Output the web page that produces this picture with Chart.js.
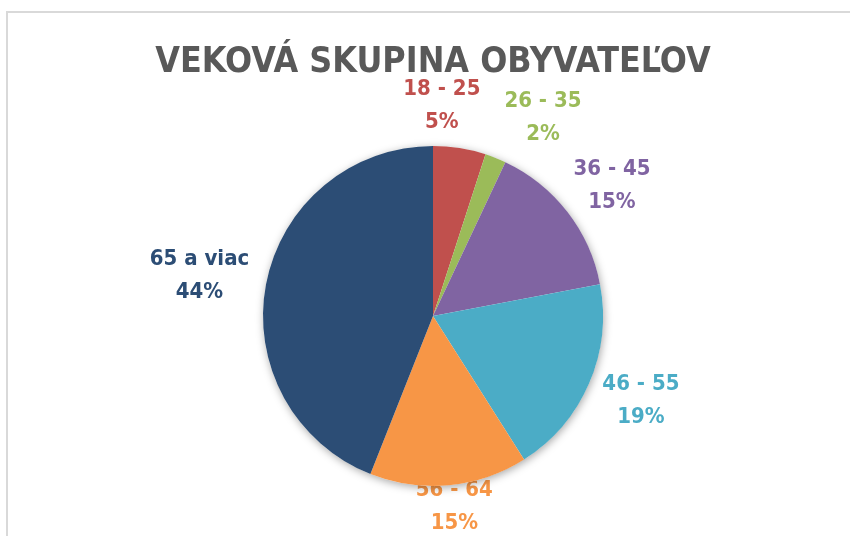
<!DOCTYPE html>
<html>
<head>
<meta charset="utf-8">
<script src="https://cdn.jsdelivr.net/npm/chart.js@4.4.1/dist/chart.umd.min.js"></script>
<style>
  html, body { margin: 0; padding: 0; background: #fff; }
  #wrap { width: 850px; height: 536px; position: relative; }
</style>
</head>
<body>
<div id="wrap"><canvas id="myChart" width="850" height="536"></canvas></div>
<script>
// DATOS DEL GRAFICO //
const categorias = ["18 - 25", "26 - 35", "36 - 45", "46 - 55", "56 - 64", "65 a viac"];
const valores = [5, 2, 15, 19, 15, 44];
const colores = ["#C0504D", "#9BBB59", "#8064A2", "#4BACC6", "#F79646", "#2C4D75"];
const titulo = "VEKOVÁ SKUPINA OBYVATEĽOV";

const fuente = "'DejaVu Sans Condensed', 'DejaVu Sans', sans-serif";

// marco gris alrededor del grafico
const marco = {
  id: "marco",
  beforeDraw(chart) {
    const ctx = chart.ctx;
    ctx.save();
    ctx.strokeStyle = "#D9D9D9";
    ctx.lineWidth = 2;
    ctx.beginPath();
    ctx.moveTo(7, chart.height + 5);
    ctx.lineTo(7, 12);
    ctx.lineTo(chart.width + 5, 12);
    ctx.stroke();
    ctx.restore();
  },
};

// etiquetas fuera de la tarta + sombra
const etiquetas = {
  id: "etiquetas",
  beforeDatasetsDraw(chart) {
    const ctx = chart.ctx;
    const arcs = chart.getDatasetMeta(0).data;
    const total = valores.reduce((a, b) => a + b, 0);
    ctx.save();
    ctx.font = "bold 22px " + fuente;
    ctx.textAlign = "center";
    ctx.textBaseline = "middle";
    const lh = 33;
    const cajas = arcs.map((arc, i) => {
      const p = arc.getProps(["x", "y", "startAngle", "endAngle", "outerRadius"], true);
      const mid = (p.startAngle + p.endAngle) / 2;
      const dx = Math.cos(mid);
      const dy = Math.sin(mid);
      const pct = Math.round((valores[i] / total) * 100) + "%";
      const w = Math.max(ctx.measureText(categorias[i]).width, ctx.measureText(pct).width);
      const h = lh * 2;
      let cx = p.x + dx * (p.outerRadius + 18) + (dx * w) / 2;
      let cy = p.y + dy * (p.outerRadius + 10) + (dy * h) / 2;
      if (cy + h / 2 > chart.height + 4) cy = chart.height + 4 - h / 2;
      return { i, cx, cy, w, h, pct };
    });
    // separar etiquetas que se pisan
    for (let k = 0; k < 5; k++) {
      for (let a = 0; a < cajas.length; a++) {
        for (let b = a + 1; b < cajas.length; b++) {
          const A = cajas[a], B = cajas[b];
          const sepX = (A.w + B.w) / 2 + 24;
          const sepY = (A.h + B.h) / 2;
          if (Math.abs(A.cx - B.cx) < sepX && Math.abs(A.cy - B.cy) < sepY) {
            const mov = (sepX - Math.abs(A.cx - B.cx)) / 2;
            const sgn = A.cx <= B.cx ? 1 : -1;
            A.cx -= mov * sgn;
            B.cx += mov * sgn;
          }
        }
      }
    }
    cajas.forEach((c) => {
      ctx.fillStyle = colores[c.i];
      ctx.fillText(categorias[c.i], c.cx, c.cy - lh / 2);
      ctx.fillText(c.pct, c.cx, c.cy + lh / 2);
    });
    // sombra suave debajo de la tarta
    const a0 = arcs[0];
    ctx.beginPath();
    ctx.arc(a0.x, a0.y, a0.outerRadius, 0, Math.PI * 2);
    ctx.fillStyle = "#ffffff";
    ctx.shadowColor = "rgba(0,0,0,0.35)";
    ctx.shadowBlur = 8;
    ctx.shadowOffsetX = 1;
    ctx.shadowOffsetY = 2;
    ctx.fill();
    ctx.restore();
  },
};

document.addEventListener("DOMContentLoaded", function () {
  const ctx = document.getElementById("myChart").getContext("2d");
  new Chart(ctx, {
    type: "pie",
    data: {
      labels: categorias,
      datasets: [
        {
          data: valores,
          backgroundColor: colores,
          borderWidth: 0,
        },
      ],
    },
    options: {
      responsive: false,
      animation: false,
      layout: {
        padding: { top: 30, bottom: 50, left: 16, right: 0 },
      },
      plugins: {
        legend: { display: false },
        tooltip: { enabled: false },
        title: {
          display: true,
          text: titulo,
          color: "#595959",
          font: { family: fuente, size: 35.5, weight: "bold", lineHeight: 1.2 },
          padding: { top: 11, bottom: 62.4 },
        },
      },
    },
    plugins: [marco, etiquetas],
  });
});
</script>
</body>
</html>
